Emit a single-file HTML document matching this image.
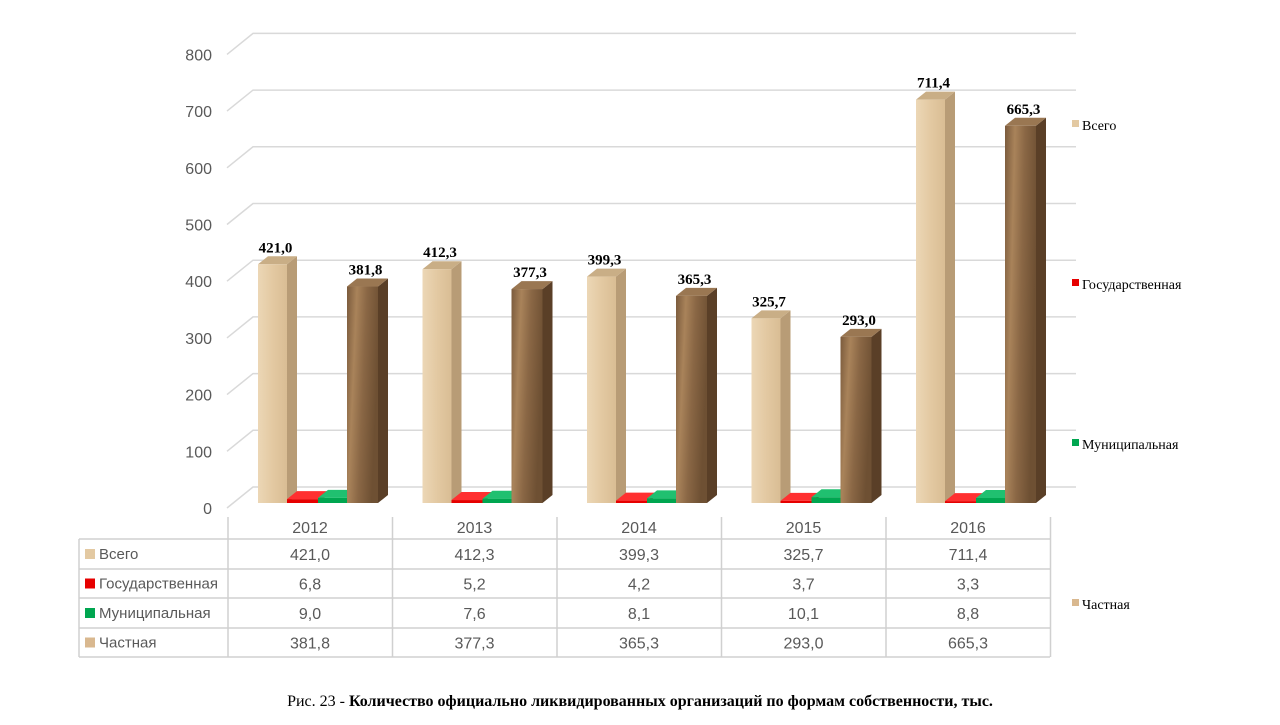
<!DOCTYPE html>
<html><head><meta charset="utf-8"><style>
body{margin:0;background:#fff;width:1280px;height:720px;overflow:hidden}
svg text{font-family:"Liberation Sans",sans-serif}
.serif{font-family:"Liberation Serif",serif}
</style></head><body>
<svg width="1280" height="720">
<defs>
<linearGradient id="tan" x1="0" x2="1"><stop offset="0" stop-color="#ecd7b6"/><stop offset="0.5" stop-color="#e3c9a2"/><stop offset="1" stop-color="#d9bd94"/></linearGradient>
<linearGradient id="brown" x1="0" x2="1" y1="0" y2="0.3"><stop offset="0" stop-color="#7a5a3c"/><stop offset="0.3" stop-color="#a9835a"/><stop offset="0.6" stop-color="#8a6745"/><stop offset="1" stop-color="#6e5033"/></linearGradient>
</defs>
<g id="grid"></g>
<g id="bars"></g>
<g id="table"></g>
<g id="legend" class="serif" font-size="14"></g>
<text x="640" y="706" text-anchor="middle" font-size="16" class="serif" style="font-family:'Liberation Serif',serif">Рис. 23 - <tspan font-weight="bold">Количество официально ликвидированных организаций по формам собственности, тыс.</tspan></text>
</svg>
<script>
const years=['2012','2013','2014','2015','2016'];
const seriesNames=['Всего','Государственная','Муниципальная','Частная'];
const total=[421.0,412.3,399.3,325.7,711.4];
const state=[6.8,5.2,4.2,3.7,3.3];
const municipal=[9.0,7.6,8.1,10.1,8.8];
const priv=[381.8,377.3,365.3,293.0,665.3];
const yTicks=[0,100,200,300,400,500,600,700,800];
const NS='http://www.w3.org/2000/svg';
function mk(tag,attrs,parent,txt){const e=document.createElementNS(NS,tag);for(const k in attrs)e.setAttribute(k,attrs[k]);if(txt!==undefined)e.textContent=txt;parent.appendChild(e);return e;}
const fmt=v=>v.toFixed(1).replace('.',',');
const yBack=v=>487-v*0.567, yFront=v=>503-v*0.567;
const catX=i=>228+i*164.5;
const grid=document.getElementById('grid');
yTicks.forEach(t=>{
  const yb=yBack(t);
  const p=mk('polyline',{points:`227,${yb+21} 253,${yb} 1076,${yb}`,fill:'none',stroke:'#d9d9d9','stroke-width':1.5},grid);
  
  
  const l=mk('text',{x:212,y:yb+27,'text-anchor':'end','font-size':16,fill:'#595959'},grid,String(t));
  
  
});
const bars=document.getElementById('bars');
const series=[total,state,municipal,priv];
const offs=[30,59,90,119], widths=[29,31,29,31];
const fills=['url(#tan)','#e60000','#00a650','url(#brown)'];
const sides=['#b89c76','#a00000','#007a3a','#5a3f27'];
const tops=['#c9ae86','#ff3030','#20c070','#9a7752'];
years.forEach((y,i)=>{
  series.forEach((s,j)=>{
    const v=s[i], x=catX(i)+offs[j], w=widths[j], yt=yFront(v), yb=503, d=10, dy=8;
    const g=mk('g',{},bars);
    
    
    mk('polygon',{points:`${x+w},${yt} ${x+w+d},${yt-dy} ${x+w+d},${yb-dy} ${x+w},${yb}`,fill:sides[j]},g);
    mk('polygon',{points:`${x},${yt} ${x+d},${yt-dy} ${x+w+d},${yt-dy} ${x+w},${yt}`,fill:tops[j]},g);
    mk('rect',{x:x,y:yt,width:w,height:yb-yt,fill:fills[j]},g);
    if(j===0||j===3){
      const t=mk('text',{x:x+w/2+3,y:yt-12,'text-anchor':'middle','font-size':15,'font-weight':'bold',style:"font-family:'Liberation Serif',serif"},bars,fmt(v));
      
      
    }
  });
});
const tb=document.getElementById('table');
const rowY=[539,569,598,628,657];
const L=(x1,y1,x2,y2)=>mk('line',{x1,y1,x2,y2,stroke:'#d0d0d0','stroke-width':1.5},tb);
rowY.forEach(y=>L(79,y,1050,y));
L(228,517,228,657);L(79,539,79,657);
for(let i=1;i<=5;i++)L(catX(i),517,catX(i),657);
years.forEach((y,i)=>{
  const t=mk('text',{x:catX(i)+82,y:533,'text-anchor':'middle','font-size':16,fill:'#595959'},tb,y);
  
  
});
const swatch=['#e3c9a2','#e60000','#00a650','#d9b88f'];
seriesNames.forEach((n,j)=>{
  const yc=(rowY[j]+rowY[j+1])/2;
  mk('rect',{x:85,y:yc-5,width:10,height:10,fill:swatch[j]},tb);
  const t=mk('text',{x:99,y:yc+5,'font-size':15,fill:'#595959'},tb,n);
  
  
  series[j].forEach((v,i)=>{
    const c=mk('text',{x:catX(i)+82,y:yc+6,'text-anchor':'middle','font-size':16,fill:'#595959'},tb,fmt(v));
    
    
  });
});
const lg=document.getElementById('legend');
const legY=[125,284,444,604];
seriesNames.forEach((n,j)=>{
  const g=mk('g',{},lg);
  
  
  mk('rect',{x:1072,y:legY[j]-5,width:7,height:7,fill:swatch[j]},g);
  mk('text',{x:1082,y:legY[j]+5,style:"font-family:'Liberation Serif',serif",'font-size':14},g,n);
});
</script>
</body></html>
